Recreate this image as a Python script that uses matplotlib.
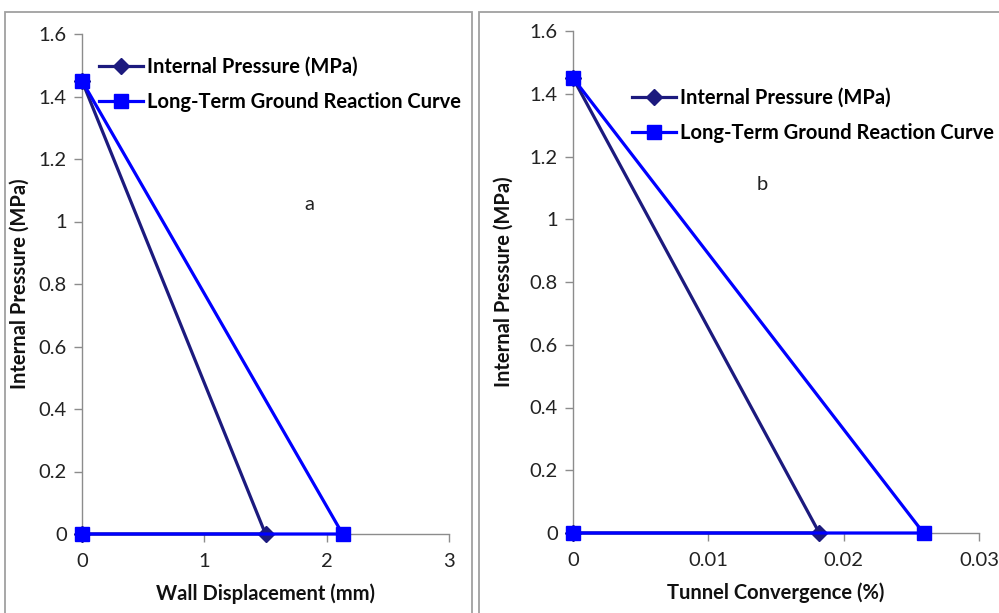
import matplotlib
matplotlib.use("Agg")
import matplotlib.pyplot as plt
from matplotlib.patches import Rectangle
from matplotlib.ticker import FuncFormatter

plt.rcParams['font.family'] = ['Lato', 'DejaVu Sans']

# ground reaction data: start pressure, zero-pressure point, back to origin
pressure_ip = [1.45, 0, 0]
pressure_grc = [1.45, 0, 0]
disp_ip = [0, 1.50, 0]
disp_grc = [0, 2.13, 0]
conv_ip = [0, 0.0182, 0]
conv_grc = [0, 0.0259, 0]

yticks = [0, 0.2, 0.4, 0.6, 0.8, 1.0, 1.2, 1.4, 1.6]
xticks_a = [0, 1, 2, 3]
xticks_b = [0, 0.01, 0.02, 0.03]

W, H = 999, 613
fig = plt.figure(figsize=(W / 100, H / 100), dpi=100)

NAVY = '#1c1a7e'
BLUE = '#0000ff'
GRID = '#8c8c8c'
FS = 14.5


def px_axes(x0, x1, ytop, ybot):
    return fig.add_axes([x0 / W, (H - ybot) / H, (x1 - x0) / W, (ybot - ytop) / H])


def style(ax, xs_ip, xs_grc, xticks, xmax, xlabel, tag, tag_xy, leg_xy):
    ax.plot(xs_ip, pressure_ip, color=NAVY, lw=2.3, marker='D', ms=8,
            label='Internal Pressure (MPa)', clip_on=False, zorder=3)
    ax.plot(xs_grc, pressure_grc, color=BLUE, lw=2.3, marker='s', ms=10,
            label='Long-Term Ground Reaction Curve', clip_on=False, zorder=4)
    ax.set_xlim(0, xmax)
    ax.set_ylim(0, 1.6)
    ax.set_xticks(xticks)
    ax.set_yticks(yticks)
    fmt = FuncFormatter(lambda v, p: f'{v:g}')
    ax.xaxis.set_major_formatter(fmt)
    ax.yaxis.set_major_formatter(fmt)
    for s in ('top', 'right'):
        ax.spines[s].set_visible(False)
    for s in ('left', 'bottom'):
        ax.spines[s].set_color(GRID)
        ax.spines[s].set_linewidth(1.0)
    ax.tick_params(colors=GRID, labelcolor='#222222', labelsize=14.5,
                   length=6, width=1.0, direction='out')
    ax.tick_params(axis='x', pad=8)
    ax.tick_params(axis='y', pad=5)
    ax.set_xlabel(xlabel, fontsize=FS, fontweight='bold', color='#111111', labelpad=9)
    ax.set_ylabel('Internal Pressure (MPa)', fontsize=FS, fontweight='bold',
                  color='#111111')
    fig.text(tag_xy[0] / W, 1 - tag_xy[1] / H, tag, fontsize=14.5, ha='center',
             va='center', color='#222222')
    ax.legend(loc='upper left', bbox_to_anchor=(leg_xy[0] / W, 1 - leg_xy[1] / H),
              bbox_transform=fig.transFigure, frameon=False,
              prop={'weight': 'bold', 'size': FS}, handlelength=2.2,
              handletextpad=0.2, labelspacing=0.75, borderaxespad=0, borderpad=0)


ax_a = px_axes(82, 449, 34, 534)
style(ax_a, disp_ip, disp_grc, xticks_a, 3, 'Wall Displacement (mm)', 'a',
      (309, 204), (99, 57))
ax_a.yaxis.set_label_coords(-52 / 367, 0.5)

ax_b = px_axes(573, 979, 31, 533)
style(ax_b, conv_ip, conv_grc, xticks_b, 0.03, 'Tunnel Convergence (%)', 'b',
      (762, 184), (632, 88))
ax_b.yaxis.set_label_coords(-59 / 406, 0.5)

# chart area outlines
for x0, x1 in ((5, 472), (479, 1010)):
    fig.patches.append(Rectangle((x0 / W, -0.05), (x1 - x0) / W, 1.05 - 12 / H,
                                 transform=fig.transFigure, fill=False,
                                 edgecolor='#a0a0a0', lw=1.3))

fig.savefig('out.png', dpi=100)
